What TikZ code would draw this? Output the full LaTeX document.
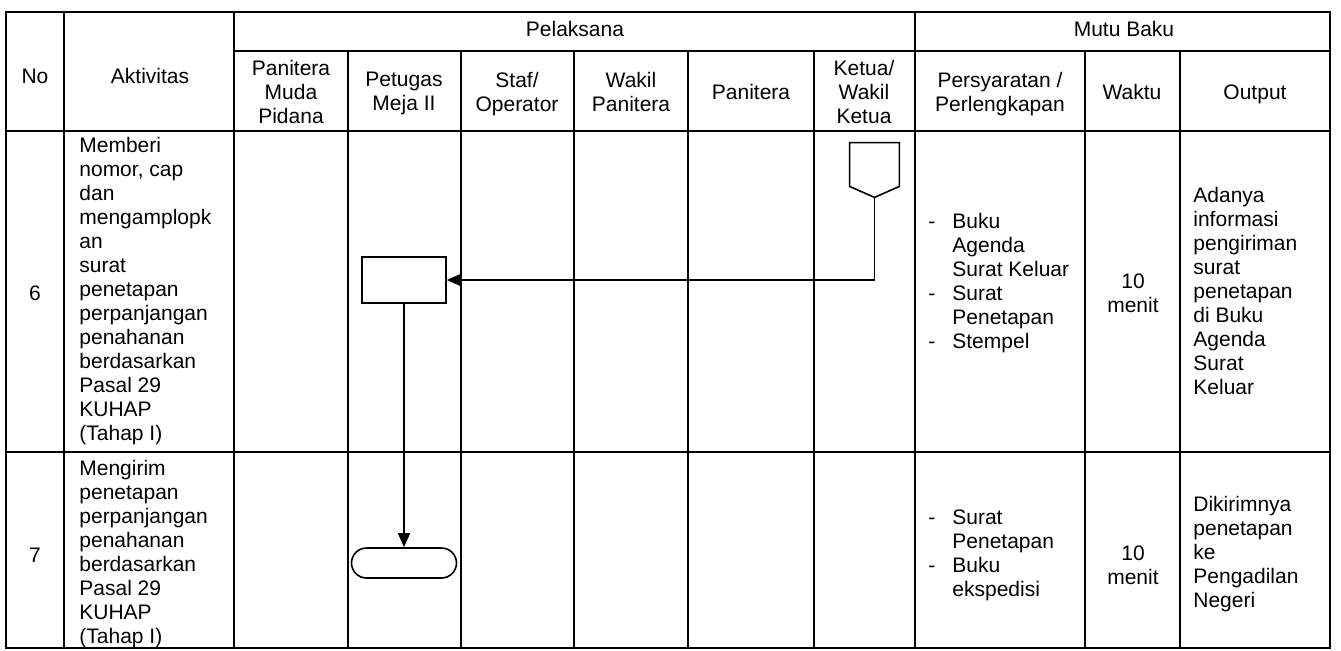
\documentclass[tikz,border=0pt]{standalone}
\usepackage{fontspec}
\setmainfont{Liberation Sans}
\usetikzlibrary{arrows.meta,calc,shapes.misc}
\tikzset{
  grid/.style={line width=1pt},
  shp/.style={draw, line width=0.8pt},
  txt/.style={inner sep=0pt, font=\fontsize{10.5}{12}\selectfont,
    execute at begin node=\strut, execute at end node=\strut},
  flow/.style={line width=0.8pt, -{Triangle[length=7pt,width=6pt]}},
}
\newcommand{\dsh}{\makebox[12pt][l]{-}}
\newcommand{\ind}{\hspace*{12pt}}
\begin{document}
\begin{tikzpicture}[x=0.5pt,y=-0.5pt]
\useasboundingbox (0,0) rectangle (1341,650);
% table grid
\draw[grid] (6,12) rectangle (1330,648);
\draw[grid] (234,51) -- (1330,51);
\draw[grid] (6,131) -- (1330,131);
\draw[grid] (6,452) -- (1330,452);
\foreach \x in {64,234,915} \draw[grid] (\x,12) -- (\x,648);
\foreach \x in {348,461,574,688,814,1085,1180} \draw[grid] (\x,51) -- (\x,648);
% headers
\node[txt] (hno) at (35,79) {No};
\node[txt] (hakt) at (150,79) {Aktivitas};
\node[txt] (hpel) at (575,32) {Pelaksana};
\node[txt] (hmutu) at (1124,32) {Mutu Baku};
\node[txt, align=center] (h1) at (291,95) {Panitera\\Muda\\Pidana};
\node[txt, align=center] (h2) at (404,95) {Petugas\\Meja II};
\node[txt, align=center] (h3) at (517,95) {Staf/\\Operator};
\node[txt, align=center] (h4) at (631,95) {Wakil\\Panitera};
\node[txt, align=center] (h5) at (751,95) {Panitera};
\node[txt, align=center] (h6) at (864,95) {Ketua/\\Wakil\\Ketua};
\node[txt, align=center] (h7) at (1000,95) {Persyaratan /\\Perlengkapan};
\node[txt, align=center] (h8) at (1132,95) {Waktu};
\node[txt, align=center] (h9) at (1255,95) {Output};
% row 6
\node[txt] (n6) at (35,296) {6};
\node[txt, align=left, anchor=west] (a6) at (79,292) {Memberi\\nomor, cap\\dan\\mengamplopk\\an\\surat\\penetapan\\perpanjangan\\penahanan\\berdasarkan\\Pasal 29\\KUHAP\\(Tahap I)};
\node[txt, align=left, anchor=west] (p6) at (928,284) {\dsh Buku\\\ind Agenda\\\ind Surat Keluar\\\dsh Surat\\\ind Penetapan\\\dsh Stempel};
\node[txt, align=center] (w6) at (1133,296.5) {10\\menit};
\node[txt, align=left, anchor=west] (o6) at (1193,294.5) {Adanya\\informasi\\pengiriman\\surat\\penetapan\\di Buku\\Agenda\\Surat\\Keluar};
% row 7
\node[txt] (n7) at (35,558) {7};
\node[txt, align=left, anchor=west] (a7) at (79,555.5) {Mengirim\\penetapan\\perpanjangan\\penahanan\\berdasarkan\\Pasal 29\\KUHAP\\(Tahap I)};
\node[txt, align=left, anchor=west] (p7) at (928,557) {\dsh Surat\\\ind Penetapan\\\dsh Buku\\\ind ekspedisi};
\node[txt, align=center] (w7) at (1133,569) {10\\menit};
\node[txt, align=left, anchor=west] (o7) at (1193,555.5) {Dikirimnya\\penetapan\\ke\\Pengadilan\\Negeri};
% flow shapes
\node[inner sep=0pt, minimum width=24.5pt, minimum height=21.5pt] (conn) at (874.5,164.5) {};
\draw[shp] (conn.north west) -- (conn.north east) -- (conn.south east) -- ($(conn.south)+(0,11)$) -- (conn.south west) -- cycle;
\coordinate (connpt) at ($(conn.south)+(0,11)$);
\node[shp, inner sep=0pt, minimum width=42pt, minimum height=23pt] (proc) at (404,280) {};
\node[shp, rounded rectangle, inner sep=0pt, minimum width=52.5pt, minimum height=15pt] (term) at (404,563) {};
\draw[flow] (connpt) |- (proc.east);
\draw[flow] (proc.south) -- (term.north);
\end{tikzpicture}
\end{document}
